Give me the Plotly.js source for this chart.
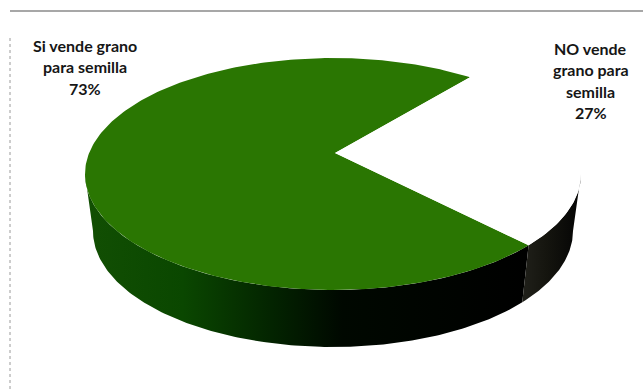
<!DOCTYPE html>
<html>
<head>
<meta charset="utf-8">
<script src="https://cdn.plot.ly/plotly-3.0.1.min.js"></script>
<style>html,body{margin:0;padding:0;background:#fff}#chart{width:643px;height:390px}</style>
</head>
<body>
<div id="chart"></div>
<script>
// Share of producers who sell grain for seed
const categories = ["Si vende grano para semilla", "NO vende grano para semilla"];
const shares = [73, 27];
const faceColors = ["#2a7602", "#ffffff"];
const labelLines = [["Si vende grano", "para semilla"], ["NO vende", "grano para", "semilla"]];

// Tilted pie geometry, in plot units
const face = {cx: 333, cy: 174, a: 248, b: 116};
const base = {cx: 333, cy: 231, a: 240, b: 116};
const hub = {x: 335, y: 153};
const rayRatio = 113 / 248;
const firstBoundaryDeg = 50.9;

const rad = d => d * Math.PI / 180;

// Where a ray leaving the hub at a given pie angle meets the rim of the face
function rimAngle(deg) {
  const dx = Math.cos(rad(deg)), dy = -rayRatio * Math.sin(rad(deg));
  const ex = (hub.x - face.cx) / face.a, ey = (hub.y - face.cy) / face.b;
  const ux = dx / face.a, uy = dy / face.b;
  const A = ux * ux + uy * uy, B = 2 * (ex * ux + ey * uy), C = ex * ex + ey * ey - 1;
  const t = (-B + Math.sqrt(B * B - 4 * A * C)) / (2 * A);
  return Math.atan2(-(ey + t * uy), ex + t * ux);
}
function rim(e, phi) {
  return [e.cx + e.a * Math.cos(phi), e.cy - e.b * Math.sin(phi)];
}
function arc(e, from, to, n) {
  const pts = [];
  for (let i = 0; i <= n; i++) pts.push(rim(e, from + (to - from) * i / n));
  return pts;
}
function poly(pts, extra) {
  return Object.assign({
    x: pts.map(p => p[0]), y: pts.map(p => p[1]),
    type: "scatter", mode: "lines", fill: "toself",
    line: {width: 0}, hoverinfo: "skip", showlegend: false
  }, extra);
}

// Slice boundaries follow from the shares: the NO slice is swept clockwise from the first boundary
const sweepNo = shares[1] / (shares[0] + shares[1]) * 360;
const phiA = rimAngle(firstBoundaryDeg);
const phiB = rimAngle(firstBoundaryDeg - sweepNo);
const phiBLow = phiB < 0 ? phiB + 2 * Math.PI : phiB;

const wallGreen = arc(face, Math.PI, phiBLow, 160).concat(arc(base, phiBLow, Math.PI, 160));
const wallDark = arc(face, phiBLow, 2 * Math.PI, 60).concat(arc(base, 2 * Math.PI, phiBLow, 60));
const sliceYes = [[hub.x, hub.y]].concat(arc(face, phiA, phiB + 2 * Math.PI, 300));
const sliceNo = [[hub.x, hub.y]].concat(arc(face, phiB, phiA, 120));

const traces = [
  poly(wallGreen, {name: categories[0] + " (lado)", fillcolor: "#0e4a00", fillgradient: {
    type: "horizontal",
    colorscale: [[0, "#124f03"], [0.22, "#0a4700"], [0.42, "#032400"], [0.58, "#000800"], [1, "#000000"]]
  }}),
  poly(wallDark, {name: categories[1] + " (lado)", fillcolor: "#111", fillgradient: {
    type: "horizontal",
    colorscale: [[0, "#20201a"], [0.4, "#15150f"], [1, "#040404"]]
  }}),
  poly(sliceYes, {name: categories[0], fillcolor: faceColors[0]}),
  poly(sliceNo, {name: categories[1], fillcolor: faceColors[1]})
];

// Stacked label lines with the share as the last line
const labelFont = {family: "Lato, 'Open Sans', sans-serif", size: 16, color: "#161616", weight: 700};
const annotations = [];
function addLabel(lines, share, x, y0, step) {
  lines.concat([share + "%"]).forEach((txt, i) => {
    annotations.push({x: x, y: y0 + i * step, text: "<b>" + txt + "</b>", showarrow: false,
      xref: "x", yref: "y", xanchor: "center", yanchor: "middle", font: labelFont});
  });
}
addLabel(labelLines[0], shares[0], 85, 45, 21.5);
addLabel(labelLines[1], shares[1], 590.5, 48, 21.5);

const layout = {
  width: 643, height: 390,
  margin: {l: 0, r: 0, t: 0, b: 0},
  paper_bgcolor: "#ffffff", plot_bgcolor: "#ffffff",
  xaxis: {range: [0, 643], visible: false, fixedrange: true},
  yaxis: {range: [390, 0], visible: false, fixedrange: true},
  showlegend: false,
  annotations: annotations,
  shapes: [
    {type: "line", x0: 10, x1: 643, y0: 11, y1: 11, line: {color: "#8a8a8a", width: 1.5}},
    {type: "line", x0: 10, x1: 10, y0: 38, y1: 390, line: {color: "#9a9a9a", width: 1, dash: "dot"}}
  ]
};
Plotly.newPlot("chart", traces, layout, {displayModeBar: false, staticPlot: true});
</script>
</body>
</html>
